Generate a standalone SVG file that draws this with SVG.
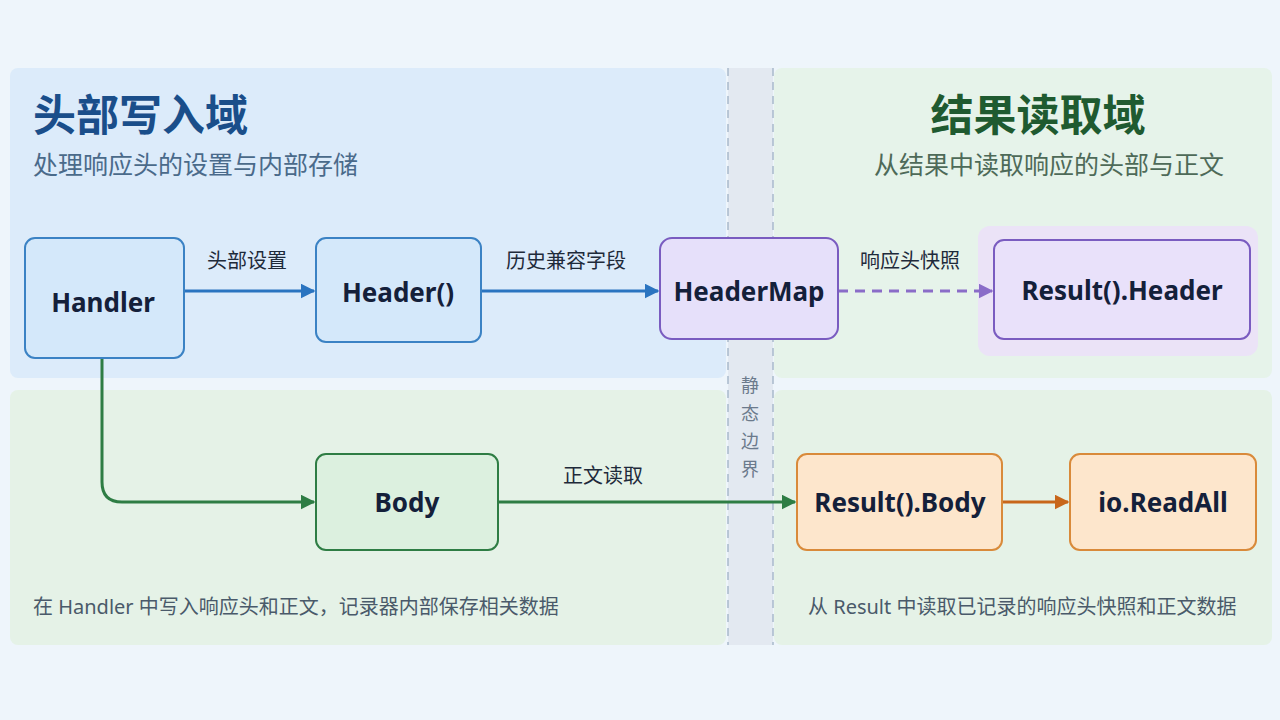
<svg xmlns="http://www.w3.org/2000/svg" width="1280" height="720" viewBox="0 0 1280 720">
<defs>
<style>
text{font-family:"Noto Sans","Noto Sans CJK SC",sans-serif}
.n{font-weight:bold;font-size:26px;fill:#14203a;text-anchor:middle}
.l{font-size:20px;fill:#1e2a3a;text-anchor:middle}
.dash{stroke:#a9b9cc;stroke-width:1.5;stroke-dasharray:8 6}
</style>
<marker id="ab" viewBox="0 0 10 10" refX="9" refY="5" markerWidth="5" markerHeight="5" orient="auto"><path d="M0 0L10 5L0 10z" fill="#2a74c0"/></marker>
<marker id="ap" viewBox="0 0 10 10" refX="9" refY="5" markerWidth="5" markerHeight="5" orient="auto"><path d="M0 0L10 5L0 10z" fill="#8a6cc8"/></marker>
<marker id="ag" viewBox="0 0 10 10" refX="9" refY="5" markerWidth="5" markerHeight="5" orient="auto"><path d="M0 0L10 5L0 10z" fill="#2e7d44"/></marker>
<marker id="ao" viewBox="0 0 10 10" refX="9" refY="5" markerWidth="5" markerHeight="5" orient="auto"><path d="M0 0L10 5L0 10z" fill="#c8661a"/></marker>
</defs>
<rect width="1280" height="720" fill="#eef5fb"/>
<rect x="10" y="68" width="716" height="310" rx="8" fill="#dcebfa"/>
<rect x="774" y="68" width="498" height="310" rx="8" fill="#e6f3ea"/>
<rect x="10" y="390" width="716" height="255" rx="8" fill="#e5f2e7"/>
<rect x="774" y="390" width="498" height="255" rx="8" fill="#e5f2e7"/>
<rect x="728" y="68" width="45" height="577" fill="#e3e9f1"/>
<line class="dash" x1="728" y1="68" x2="728" y2="645"/>
<line class="dash" x1="773" y1="68" x2="773" y2="645"/>
<g fill="#6b7a8c" font-size="18" text-anchor="middle">
<text x="750" y="392">静</text><text x="750" y="420">态</text><text x="750" y="448">边</text><text x="750" y="476">界</text>
</g>
<text x="33" y="131" font-size="43" font-weight="bold" fill="#1a4e8a">头部写入域</text>
<text x="33" y="174" font-size="25" fill="#4a6a8a">处理响应头的设置与内部存储</text>
<text x="1038" y="131" font-size="43" font-weight="bold" fill="#1f5a30" text-anchor="middle">结果读取域</text>
<text x="1049" y="174" font-size="25" fill="#4e6a58" text-anchor="middle">从结果中读取响应的头部与正文</text>
<text x="33" y="614" font-size="20" fill="#4a5a6a">在 Handler 中写入响应头和正文，记录器内部保存相关数据</text>
<text x="808" y="614" font-size="20" fill="#4a5a6a">从 Result 中读取已记录的响应头快照和正文数据</text>
<rect x="978" y="226" width="280" height="130" rx="12" fill="#ebe3f7"/>
<g id="connectors" fill="none" stroke-width="3">
<line x1="184" y1="291" x2="314" y2="291" stroke="#2a74c0" marker-end="url(#ab)"/>
<text class="l" x="247" y="268" stroke="none">头部设置</text>
<line x1="481" y1="291" x2="658" y2="291" stroke="#2a74c0" marker-end="url(#ab)"/>
<text class="l" x="566" y="268" stroke="none">历史兼容字段</text>
<line x1="838" y1="291" x2="992" y2="291" stroke="#8a6cc8" stroke-dasharray="10 7" marker-end="url(#ap)"/>
<text class="l" x="910" y="268" stroke="none">响应头快照</text>
<path d="M102 358V482Q102 502 122 502H314" stroke="#2e7d44" marker-end="url(#ag)"/>
<line x1="498" y1="502" x2="795" y2="502" stroke="#2e7d44" marker-end="url(#ag)"/>
<text class="l" x="603" y="483" stroke="none">正文读取</text>
<line x1="1002" y1="502" x2="1068" y2="502" stroke="#c8661a" marker-end="url(#ao)"/>
</g>
<g id="handler"><rect x="25" y="238" width="159" height="120" rx="10" fill="#d4e8fa" stroke="#3b82c4" stroke-width="2"/><text class="n" x="103" y="312">Handler</text></g>
<g id="header"><rect x="316" y="238" width="165" height="104" rx="10" fill="#d4e8fa" stroke="#3b82c4" stroke-width="2"/><text class="n" x="398" y="302">Header()</text></g>
<g id="headermap"><rect x="660" y="238" width="178" height="101" rx="12" fill="#e6e0fa" stroke="#7a5cc0" stroke-width="2"/><text class="n" x="749" y="301">HeaderMap</text></g>
<g id="resultheader"><rect x="994" y="240" width="256" height="99" rx="10" fill="#e9e1fa" stroke="#7a5cc0" stroke-width="2"/><text class="n" x="1122" y="300">Result().Header</text></g>
<g id="body"><rect x="316" y="454" width="182" height="96" rx="10" fill="#dcf0df" stroke="#2e7d44" stroke-width="2"/><text class="n" x="407" y="512">Body</text></g>
<g id="resultbody"><rect x="797" y="454" width="205" height="96" rx="10" fill="#fde6cc" stroke="#d98a3a" stroke-width="2"/><text class="n" x="900" y="512">Result().Body</text></g>
<g id="readall"><rect x="1070" y="454" width="186" height="96" rx="10" fill="#fde6cc" stroke="#d98a3a" stroke-width="2"/><text class="n" x="1163" y="512">io.ReadAll</text></g>
</svg>
